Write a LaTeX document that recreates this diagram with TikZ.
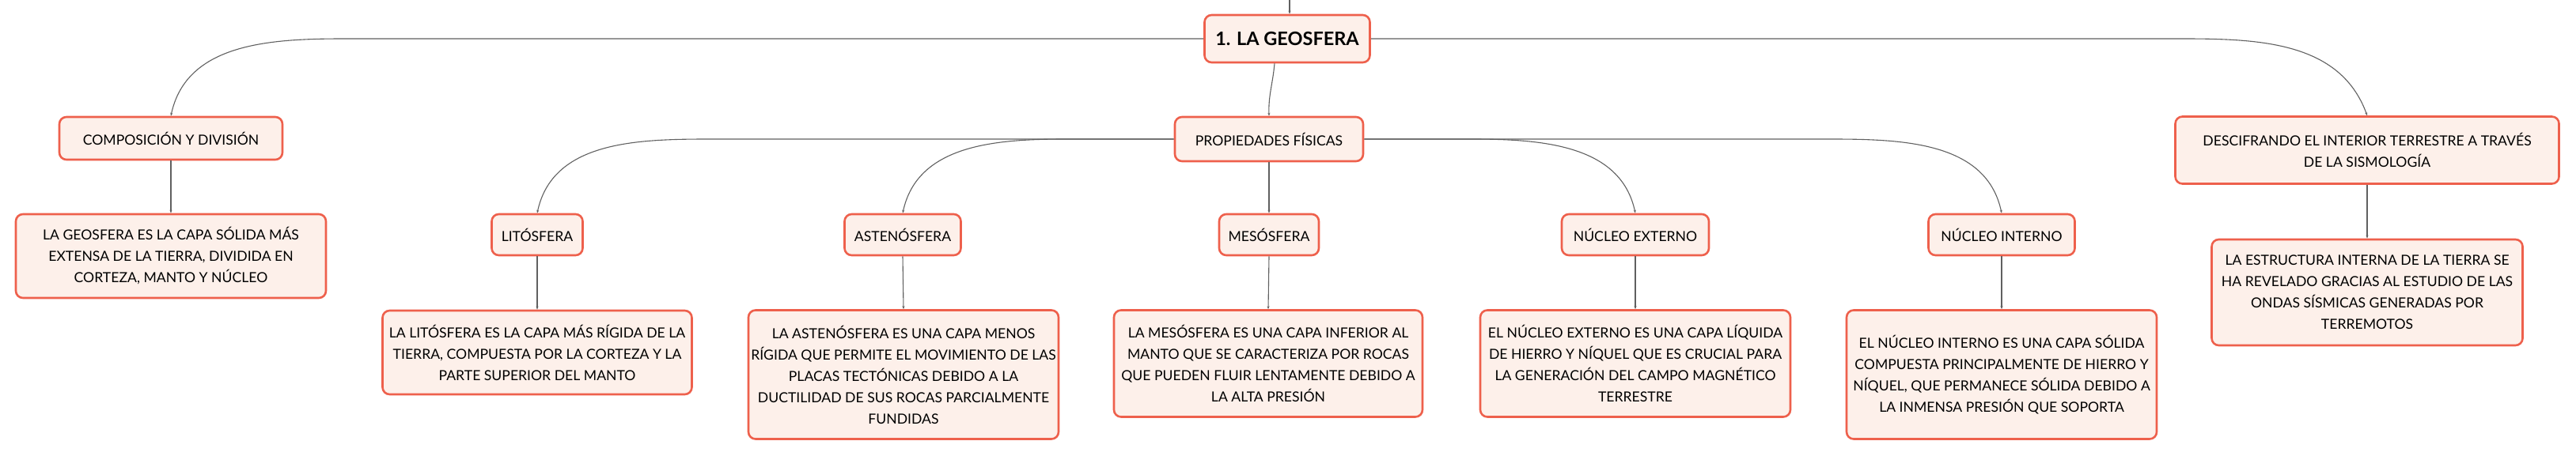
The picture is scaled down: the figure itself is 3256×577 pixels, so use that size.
\documentclass[tikz,border=0pt]{standalone}
\usepackage{fontspec}
\setmainfont{Lato}
\usetikzlibrary{arrows.meta,calc}
\definecolor{boxline}{RGB}{238,96,76}
\definecolor{boxfill}{RGB}{253,240,234}
\definecolor{linkgray}{RGB}{96,96,96}
\tikzstyle{topic} = [rectangle, rounded corners=9pt, draw=boxline, line width=2.6pt,
    fill=boxfill, inner sep=0pt, align=center, font=\fontsize{17.6}{27}\selectfont]
\tikzstyle{link} = [draw=linkgray, line width=1.1pt, -{Stealth[length=4pt,width=3pt]}]

\begin{document}
\begin{tikzpicture}[x=1pt,y=1pt]

\useasboundingbox (0,0) rectangle (3256,-577);

\node[topic, font=\fontsize{23.5}{28}\selectfont\bfseries, minimum width=209pt, minimum height=60pt] (geo) at (1627,-49) {1. LA GEOSFERA};
\coordinate (up) at (1630,0);

\node[topic, minimum width=282pt, minimum height=54pt] (comp) at (216,-175) {COMPOSICIÓN Y DIVISIÓN};
\node[topic, minimum width=238pt, minimum height=56pt] (prop) at (1604,-176) {PROPIEDADES FÍSICAS};
\node[topic, minimum width=485pt, minimum height=85pt] (sism) at (2992,-190) {DESCIFRANDO EL INTERIOR TERRESTRE A TRAVÉS\\DE LA SISMOLOGÍA};

\node[topic, minimum width=392pt, minimum height=106pt] (compTxt) at (216,-324) {LA GEOSFERA ES LA CAPA SÓLIDA MÁS\\EXTENSA DE LA TIERRA, DIVIDIDA EN\\CORTEZA, MANTO Y NÚCLEO};
\node[topic, minimum width=393pt, minimum height=134pt] (sismTxt) at (2992,-370) {LA ESTRUCTURA INTERNA DE LA TIERRA SE\\HA REVELADO GRACIAS AL ESTUDIO DE LAS\\ONDAS SÍSMICAS GENERADAS POR\\TERREMOTOS};

\node[topic, minimum width=115pt, minimum height=52pt] (lito) at (679,-297) {LITÓSFERA};
\node[topic, minimum width=147pt, minimum height=52pt] (aste) at (1141,-297) {ASTENÓSFERA};
\node[topic, minimum width=126pt, minimum height=52pt] (meso) at (1604,-297) {MESÓSFERA};
\node[topic, minimum width=186pt, minimum height=52pt] (next) at (2067,-297) {NÚCLEO EXTERNO};
\node[topic, minimum width=185pt, minimum height=52pt] (nint) at (2530,-297) {NÚCLEO INTERNO};

\node[topic, minimum width=391pt, minimum height=106pt] (litoTxt) at (679,-446) {LA LITÓSFERA ES LA CAPA MÁS RÍGIDA DE LA\\TIERRA, COMPUESTA POR LA CORTEZA Y LA\\PARTE SUPERIOR DEL MANTO};
\node[topic, minimum width=392pt, minimum height=163pt] (asteTxt) at (1142,-474) {LA ASTENÓSFERA ES UNA CAPA MENOS\\RÍGIDA QUE PERMITE EL MOVIMIENTO DE LAS\\PLACAS TECTÓNICAS DEBIDO A LA\\DUCTILIDAD DE SUS ROCAS PARCIALMENTE\\FUNDIDAS};
\node[topic, minimum width=390pt, minimum height=135pt] (mesoTxt) at (1603,-460) {LA MESÓSFERA ES UNA CAPA INFERIOR AL\\MANTO QUE SE CARACTERIZA POR ROCAS\\QUE PUEDEN FLUIR LENTAMENTE DEBIDO A\\LA ALTA PRESIÓN};
\node[topic, minimum width=392pt, minimum height=135pt] (nextTxt) at (2067,-460) {EL NÚCLEO EXTERNO ES UNA CAPA LÍQUIDA\\DE HIERRO Y NÍQUEL QUE ES CRUCIAL PARA\\LA GENERACIÓN DEL CAMPO MAGNÉTICO\\TERRESTRE};
\node[topic, minimum width=392pt, minimum height=163pt] (nintTxt) at (2530,-474) {EL NÚCLEO INTERNO ES UNA CAPA SÓLIDA\\COMPUESTA PRINCIPALMENTE DE HIERRO Y\\NÍQUEL, QUE PERMANECE SÓLIDA DEBIDO A\\LA INMENSA PRESIÓN QUE SOPORTA};

\draw[link] (up) -- (up |- geo.north);

\draw[link] (geo.west) -- ([xshift=220pt]comp.north |- geo.west) to[out=180,in=78] (comp.north);
\draw[link] (geo.east) -- ([xshift=-234pt]sism.north |- geo.east) to[out=0,in=110] (sism.north);
\draw[link] ([xshift=-16pt]geo.south) to[out=-95,in=92] (prop.north);

\draw[link] (prop.west) -- ([xshift=219pt]lito.north |- prop.west) to[out=180,in=78] (lito.north);
\draw[link] (prop.west) -- ([xshift=206pt]aste.north |- prop.west) to[out=180,in=78] (aste.north);
\draw[link] (prop.south) -- (meso.north);
\draw[link] (prop.east) -- ([xshift=-207pt]next.north |- prop.east) to[out=0,in=102] (next.north);
\draw[link] (prop.east) -- ([xshift=-218pt]nint.north |- prop.east) to[out=0,in=102] (nint.north);

\draw[link] (comp.south) -- (compTxt.north);
\draw[link] (sism.south) -- (sismTxt.north);
\draw[link] (lito.south) -- (litoTxt.north);
\draw[link] (aste.south) -- (asteTxt.north);
\draw[link] (meso.south) -- (mesoTxt.north);
\draw[link] (next.south) -- (nextTxt.north);
\draw[link] (nint.south) -- (nintTxt.north);

\end{tikzpicture}
\end{document}
